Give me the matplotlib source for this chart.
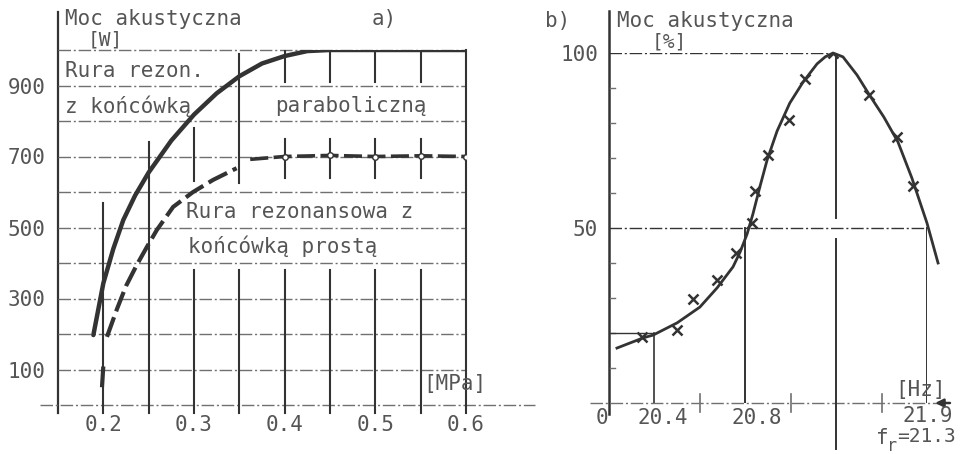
import numpy as np
import matplotlib
matplotlib.use("Agg")
import matplotlib.pyplot as plt

# ---------------- data: panel a) ----------------
pressure_parab = [0.189, 0.2, 0.211, 0.222, 0.235, 0.25, 0.275, 0.3, 0.325, 0.35,
                  0.375, 0.4, 0.425, 0.45, 0.5, 0.55, 0.6]
power_parab = [197, 343, 440, 521, 590, 655, 745, 818, 878, 926,
               962, 983, 997, 1000, 1000, 1000, 1000]
pressure_straight = [0.1985, 0.2, np.nan, 0.204, 0.215, 0.225, 0.237, 0.248, 0.259,
                     0.277, 0.299, 0.321, 0.347]
power_straight = [50, 110, np.nan, 192, 270, 335, 395, 445, 493, 558, 600, 634, 667]
pressure_straight_flat = [0.362, 0.4, 0.45, 0.5, 0.55, 0.6]
power_straight_flat = [692, 700, 703, 700, 702, 700]
bar_pressures = [0.4, 0.45, 0.5, 0.55]
a_xticks = [0.2, 0.3, 0.4, 0.5, 0.6]
a_xticklabels = ["0.2", "0.3", "0.4", "0.5", "0.6"]
a_yticks = [100, 300, 500, 700, 900]
a_yticklabels = ["100", "300", "500", "700", "900"]

# ---------------- data: panel b) ----------------
freq_curve = [20.235, 20.35, 20.394, 20.50, 20.60, 20.676, 20.746, 20.777, 20.81,
              20.842, 20.88, 20.92, 20.975, 21.045, 21.118, 21.195, 21.24, 21.283,
              21.345, 21.438, 21.52, 21.615, 21.708, 21.80, 21.9, 21.973]
power_curve = [15.7, 18.6, 19.4, 22.9, 27.4, 32.9, 38.9, 43.1, 48.3,
               54, 61.7, 69.4, 77.7, 85.7, 91.7, 96.9, 98.9, 100,
               98.9, 93.7, 88, 81.7, 74.6, 64.3, 51.4, 40]
freq_meas = [20.345, 20.50, 20.57, 20.676, 20.76, 20.838, 20.853, 20.925, 21.04,
             21.128, 21.283, 21.517, 21.70, 21.807]
power_meas = [18.9, 20.9, 29.7, 35.1, 42.9, 51.4, 60.6, 70.9, 81,
              92.6, 100, 88, 76, 62]
b_yticks = [50, 100]
b_yticklabels = ["50", "100"]
f_res = 21.3

# ---------------- style ----------------
plt.rcParams["font.family"] = ["DejaVu Sans Mono", "DejaVu Sans"]
plt.rcParams["font.size"] = 15
TXT = "#555555"
LINE = "#333333"
GRID = "#707070"
dashdot = (0, (9, 2, 1.5, 2))

W, H = 961, 454
fig = plt.figure(figsize=(W / 100, H / 100), dpi=100)
fig.patch.set_facecolor("white")


def ftext(px, py, s, **kw):
    kw.setdefault("color", TXT)
    fig.text(px / W, 1 - py / H, s, **kw)


# ================= panel a =================
ax = fig.add_axes([58 / W, (H - 405) / H, 408 / W, 355 / H])
ax.set_xlim(0.15, 0.6)
ax.set_ylim(0, 1000)
for sp in ax.spines.values():
    sp.set_visible(False)
ax.set_xticks(a_xticks, a_xticklabels)
ax.set_yticks(a_yticks, a_yticklabels)
ax.tick_params(axis="x", length=0, pad=7, colors=TXT, labelsize=15)
ax.tick_params(axis="y", length=0, pad=9, colors=TXT, labelsize=15)

# axes lines
ax.plot([0.15, 0.15], [-22, 1107], color=LINE, lw=1.6, clip_on=False)
ax.plot([0.13, 0.676], [0, 0], color=GRID, lw=1.0, ls=dashdot, clip_on=False)
# horizontal grid
for yv in range(100, 1001, 100):
    ax.plot([0.15, 0.6], [yv, yv], color=GRID, lw=1.0, ls=dashdot, clip_on=False)
# vertical lines
vsegs = [(0.2, -22, 570), (0.25, -22, 740), (0.3, -22, 380), (0.3, 630, 780),
         (0.35, -22, 380), (0.35, 625, 990), (0.4, -22, 380), (0.45, -22, 380),
         (0.5, -22, 380), (0.55, -22, 380), (0.6, -22, 1000)]
for xv, y0, y1 in vsegs:
    ax.plot([xv, xv], [y0, y1], color=LINE, lw=1.5, clip_on=False)
for xv in bar_pressures:
    ax.plot([xv, xv], [910, 1000], color=LINE, lw=1.5)
    ax.plot([xv, xv], [640, 750], color=LINE, lw=1.5)

# curves
ax.plot(pressure_parab, power_parab, color=LINE, lw=3.2, solid_capstyle="round")
ax.plot(pressure_straight, power_straight, color=LINE, lw=3.0, ls=(0, (5, 1.5)))
ax.plot(pressure_straight_flat, power_straight_flat, color=LINE, lw=2.6,
        ls=(0, (5, 1.5)), marker="o", markersize=4, markerfacecolor="white",
        markeredgecolor=LINE, markevery=slice(1, None))

# texts
ftext(65, 9, "Moc akustyczna", va="top")
ftext(88, 31, "[W]", va="top", fontsize=14)
ftext(372, 9, "a)", va="top")
ftext(65, 71, "Rura rezon.", va="center")
ftext(65, 106, "z końcówką", va="center")
ftext(275, 106, "paraboliczną", va="center")
ftext(186, 212, "Rura rezonansowa z", va="center")
ftext(188, 246, "końcówką prostą", va="center")
ftext(423, 384, "[MPa]", va="center")

# ================= panel b =================
KX = [18.2, 20.2, 20.8, 21.3, 21.9, 24.9]
KP = [-10, 0, 3, 5, 7, 17]


def fwd(x):
    return np.interp(x, KX, KP)


def inv(p):
    return np.interp(p, KP, KX)


bx = fig.add_axes([609 / W, (H - 403) / H, 318 / W, 350 / H])
bx.set_xscale("function", functions=(fwd, inv))
bx.set_xlim(20.2, 21.9)
bx.set_ylim(0, 100)
for sp in bx.spines.values():
    sp.set_visible(False)
bx.set_xticks([])
bx.set_yticks(b_yticks, b_yticklabels)
bx.tick_params(axis="y", length=0, pad=8, colors=TXT, labelsize=15)

bx.plot([20.2, 20.2], [-3, 112], color=LINE, lw=1.8, clip_on=False)
bx.plot([20.118, 21.97], [0, 0], color=GRID, lw=1.0, ls=dashdot, clip_on=False)
bx.annotate("", xy=(21.935, 0), xytext=(22.07, 0), annotation_clip=False,
            arrowprops=dict(arrowstyle="-|>", color=LINE, lw=1.8,
                            mutation_scale=12))
for yv in [10, 20, 30, 40, 60, 70, 80, 90]:
    bx.plot([20.205, 20.225], [yv, yv], color=GRID, lw=1.0, clip_on=False)
for xv in [20.6, 21.05, 21.6]:
    bx.plot([xv, xv], [-2.5, 2.5], color=GRID, lw=1.2, clip_on=False)

# reference lines
bx.plot([20.2, 21.28], [100, 100], color=LINE, lw=1.0, ls=dashdot)
bx.plot([20.2, 21.9], [50, 50], color=LINE, lw=1.0, ls=dashdot)
bx.plot([20.2, 20.4], [20, 20], color=LINE, lw=1.0)
bx.plot([20.4, 20.4], [0, 20], color=LINE, lw=1.2)
bx.plot([20.8, 20.8], [0, 50], color=LINE, lw=1.4)
bx.plot([f_res, f_res], [-13, 47], color=LINE, lw=1.4, clip_on=False)
bx.plot([f_res, f_res], [53, 100], color=LINE, lw=1.4)
bx.plot([21.9, 21.9], [0, 50], color=LINE, lw=1.4)

# curve and measurements
bx.plot(freq_curve, power_curve, color=LINE, lw=2.0, clip_on=False)
bx.plot(freq_meas, power_meas, ls="none", marker="x", markersize=7,
        markeredgewidth=1.8, color=LINE)

# texts
ftext(545, 11, "b)", va="top")
ftext(617, 11, "Moc akustyczna", va="top")
ftext(652, 32, "[%]", va="top", fontsize=14)
ftext(602, 418, "0", ha="center", va="center")
ftext(663, 418, "20.4", ha="center", va="center")
ftext(757, 418, "20.8", ha="center", va="center")
ftext(928, 416, "21.9", ha="center", va="center")
ftext(920, 390, "[Hz]", ha="center", va="center")
ftext(882, 438, "f", ha="center", va="center")
ftext(892, 446, "r", ha="center", va="center", fontsize=12)
ftext(897, 437, "=21.3", ha="left", va="center", fontsize=14)

fig.savefig("out.png", dpi=100, facecolor="white")
